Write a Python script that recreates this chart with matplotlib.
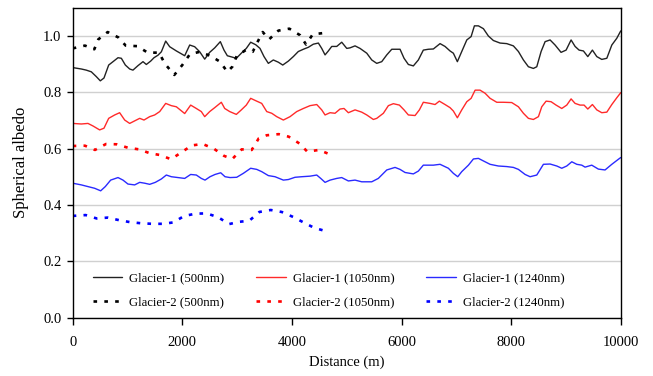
import matplotlib
matplotlib.use("Agg")
import matplotlib.pyplot as plt

plt.rcParams['font.family'] = ['Liberation Serif', 'DejaVu Serif']
plt.rcParams['lines.scale_dashes'] = False

# ---------------- data ----------------
g1_500_x = [0,158,248,340,431,504,571,657,736,827,888,961,1040,1100,1192,1283,1344,1423,1484,1557,
            1618,1697,1770,1892,2044,2135,2226,2318,2409,2500,2592,2694,2761,2822,2895,2986,3077,3168,
            3248,3340,3418,3491,3570,3661,3753,3833,3935,4026,4117,4209,4300,4391,4483,4544,4605,4665,
            4727,4818,4909,5001,5061,5152,5243,5366,5457,5548,5639,5731,5822,5973,6046,6125,6216,6307,
            6398,6490,6581,6703,6794,6885,6946,7019,7099,7191,7270,7330,7403,7494,7585,7676,7798,7920,
            8041,8133,8224,8315,8406,8468,8547,8620,8711,8802,8911,9003,9094,9167,9240,9319,9399,9483,
            9563,9654,9746,9837,9928,10000]
g1_500_y = [0.887,0.882,0.878,0.872,0.855,0.840,0.850,0.896,0.908,0.922,0.920,0.896,0.882,0.878,0.894,
            0.908,0.898,0.910,0.922,0.931,0.943,0.981,0.961,0.946,0.929,0.967,0.961,0.943,0.917,0.941,
            0.957,0.979,0.949,0.929,0.925,0.920,0.938,0.955,0.977,0.968,0.955,0.926,0.902,0.914,0.906,
            0.896,0.910,0.926,0.944,0.952,0.959,0.970,0.974,0.955,0.932,0.946,0.962,0.962,0.977,0.955,
            0.957,0.964,0.955,0.938,0.914,0.902,0.908,0.932,0.952,0.952,0.920,0.898,0.893,0.914,0.949,
            0.952,0.953,0.972,0.962,0.946,0.938,0.908,0.944,0.985,0.997,1.035,1.035,1.025,0.999,0.983,
            0.974,0.972,0.964,0.944,0.914,0.890,0.884,0.890,0.944,0.979,0.985,0.967,0.941,0.949,0.985,
            0.962,0.949,0.946,0.926,0.949,0.926,0.916,0.920,0.967,0.991,1.017]

g1_1050_x = [0,158,279,370,492,571,657,766,857,949,1040,1131,1223,1301,1405,1496,1588,1697,1800,1892,
             2044,2153,2256,2347,2409,2500,2592,2712,2774,2865,2986,3077,3168,3248,3358,3449,3541,3632,
             3723,3844,3966,4088,4209,4331,4453,4544,4605,4696,4787,4878,4951,5030,5152,5274,5366,5486,
             5548,5669,5760,5851,5961,6046,6125,6247,6326,6398,6521,6612,6690,6794,6885,6946,7019,7099,
             7191,7270,7343,7433,7525,7616,7738,7859,8011,8133,8224,8315,8406,8498,8559,8638,8729,8820,
             8924,9015,9094,9167,9258,9331,9399,9483,9563,9654,9746,9837,9928,10000]
g1_1050_y = [0.689,0.687,0.689,0.680,0.666,0.672,0.707,0.719,0.727,0.701,0.689,0.698,0.707,0.701,0.713,
             0.719,0.731,0.760,0.752,0.748,0.724,0.754,0.742,0.731,0.713,0.731,0.745,0.764,0.742,0.731,
             0.721,0.737,0.754,0.778,0.768,0.760,0.731,0.725,0.713,0.701,0.713,0.731,0.742,0.752,0.756,
             0.737,0.719,0.727,0.725,0.740,0.742,0.727,0.737,0.729,0.719,0.703,0.707,0.725,0.752,0.759,
             0.754,0.737,0.719,0.717,0.737,0.764,0.760,0.756,0.768,0.756,0.745,0.733,0.709,0.737,0.766,
             0.778,0.807,0.807,0.796,0.778,0.764,0.764,0.763,0.748,0.725,0.707,0.703,0.713,0.748,0.768,
             0.766,0.754,0.742,0.754,0.776,0.760,0.754,0.754,0.740,0.756,0.737,0.727,0.729,0.756,0.780,
             0.798]

g1_1240_x = [0,158,279,401,511,595,693,827,918,1009,1131,1223,1314,1405,1508,1618,1709,1800,1922,2044,
             2153,2256,2347,2415,2506,2597,2701,2780,2871,2993,3114,3248,3358,3449,3570,3692,3844,3935,
             4057,4179,4331,4453,4526,4605,4696,4818,4909,5030,5152,5274,5457,5577,5731,5882,5973,6065,
             6216,6307,6398,6581,6703,6855,6946,7026,7099,7221,7312,7403,7494,7616,7767,7920,8041,8133,
             8255,8346,8468,8589,8711,8833,8924,9015,9107,9198,9289,9349,9471,9592,9714,9837,9958,10000]
g1_1240_y = [0.477,0.471,0.465,0.459,0.450,0.465,0.488,0.497,0.488,0.474,0.471,0.480,0.477,0.473,0.480,
             0.492,0.506,0.500,0.497,0.494,0.508,0.506,0.494,0.488,0.500,0.508,0.514,0.500,0.497,0.498,
             0.512,0.530,0.526,0.518,0.504,0.500,0.488,0.490,0.498,0.500,0.502,0.506,0.494,0.480,0.488,
             0.494,0.497,0.485,0.488,0.482,0.482,0.494,0.524,0.533,0.526,0.515,0.510,0.520,0.541,0.541,
             0.544,0.530,0.512,0.500,0.518,0.541,0.563,0.565,0.556,0.544,0.538,0.536,0.533,0.526,0.508,
             0.500,0.506,0.544,0.545,0.538,0.530,0.538,0.553,0.544,0.541,0.534,0.541,0.527,0.524,0.544,
             0.562,0.568]

g2_500_x = [0,224,395,467,639,833,967,1179,1369,1575,1685,1855,2000,2141,2323,2519,2688,2822,2913,2993,
            3157,3285,3376,3468,3583,3753,3953,4148,4258,4380,4555,4650]
g2_500_y = [0.955,0.965,0.952,0.987,1.013,0.994,0.965,0.963,0.940,0.940,0.900,0.861,0.896,0.935,0.943,
            0.928,0.908,0.872,0.890,0.928,0.949,0.943,0.979,1.013,0.987,1.018,1.025,1.002,0.969,1.005,
            1.009,1.010]

g2_1050_x = [0,224,407,608,803,1004,1210,1411,1593,1794,1989,2172,2373,2579,2761,2913,3084,3267,3395,
             3541,3760,3942,4136,4281,4495,4683]
g2_1050_y = [0.609,0.610,0.595,0.616,0.615,0.603,0.597,0.583,0.577,0.562,0.587,0.611,0.616,0.599,0.574,
             0.563,0.597,0.595,0.636,0.647,0.651,0.642,0.618,0.589,0.595,0.580]

g2_1240_x = [0,237,438,639,845,1046,1246,1447,1654,1836,2037,2245,2446,2657,2853,3035,3223,3406,3614,
             3814,4026,4221,4404,4617]
g2_1240_y = [0.361,0.364,0.352,0.355,0.346,0.339,0.335,0.333,0.333,0.338,0.361,0.369,0.370,0.356,0.332,
             0.340,0.344,0.375,0.382,0.375,0.357,0.337,0.319,0.307]

labels = ["Glacier-1 (500nm)", "Glacier-1 (1050nm)", "Glacier-1 (1240nm)",
          "Glacier-2 (500nm)", "Glacier-2 (1050nm)", "Glacier-2 (1240nm)"]
x_ticks = [0, 2000, 4000, 6000, 8000, 10000]
y_ticks = [0.0, 0.2, 0.4, 0.6, 0.8, 1.0]

# ---------------- figure ----------------
fig = plt.figure(figsize=(6.53, 3.76), dpi=100)
ax = fig.add_axes([0.1113, 0.155, 0.8393, 0.825])

dash = (2.6, 5.2)
solid_kw = dict(lw=1.0, solid_joinstyle='round', solid_capstyle='round')
h1, = ax.plot(g1_500_x, g1_500_y, color='#222222', label=labels[0], **solid_kw)
h2, = ax.plot(g1_1050_x, g1_1050_y, color='#ff2a2a', label=labels[1], **solid_kw)
h3, = ax.plot(g1_1240_x, g1_1240_y, color='#2a2aff', label=labels[2], **solid_kw)
h4, = ax.plot(g2_500_x, g2_500_y, color='black', lw=1.9, dashes=dash, label=labels[3])
h5, = ax.plot(g2_1050_x, g2_1050_y, color='#ff0000', lw=1.9, dashes=dash, label=labels[4])
h6, = ax.plot(g2_1240_x, g2_1240_y, color='#0000ff', lw=1.9, dashes=dash, label=labels[5])

ax.set_xlim(0, 10000)
ax.set_ylim(0, 1.1)
ax.set_xticks(x_ticks)
ax.set_xticklabels([str(t) for t in x_ticks])
ax.set_yticks(y_ticks)
ax.set_yticklabels([f"{t:.1f}" for t in y_ticks])
ax.yaxis.grid(True, color='#d0d0d0', lw=1.0)
ax.set_axisbelow(True)
ax.tick_params(axis='both', direction='out', length=4, width=1, labelsize=10.5, colors='black')
ax.tick_params(axis='x', length=5, pad=8)
ax.tick_params(axis='y', pad=4)
for s in ax.spines.values():
    s.set_color('black')
    s.set_linewidth(1.0)

ax.set_xlabel("Distance (m)", fontsize=10.5, labelpad=5)
ax.set_ylabel("Spherical albedo", fontsize=12, labelpad=10)

ax.legend(handles=[h1, h4, h2, h5, h3, h6], ncol=3, loc='upper left',
          bbox_to_anchor=(0.037, 0.147), frameon=False, fontsize=9.2,
          handlelength=2.3, handletextpad=0.55, columnspacing=2.5,
          labelspacing=0.95, borderpad=0, borderaxespad=0)

fig.savefig("out.png", dpi=100)
